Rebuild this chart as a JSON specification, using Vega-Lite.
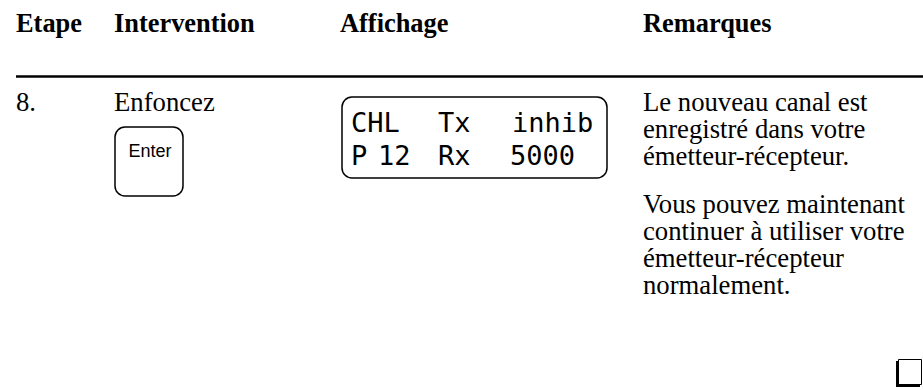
{
  "$schema": "https://vega.github.io/schema/vega-lite/v6.json",
  "width": 923,
  "height": 390,
  "padding": 0,
  "autosize": {"type": "none"},
  "background": "white",
  "config": {"view": {"stroke": null}},
  "datasets": {
    "rules": [{"x": 16, "x2": 923, "y": 76.5}],
    "boxes": [
      {"name": "Enter key", "x": 115, "x2": 183, "y": 127, "y2": 196},
      {"name": "Affichage", "x": 342, "x2": 607, "y": 97, "y2": 178}
    ],
    "shadow": [{"x": 896, "x2": 920, "y": 361, "y2": 387}],
    "check": [{"x": 898.5, "x2": 921.5, "y": 359.5, "y2": 384.5}],
    "headers": [
      {"text": "Etape", "x": 16, "y": 32},
      {"text": "Intervention", "x": 114, "y": 32},
      {"text": "Affichage", "x": 340, "y": 32},
      {"text": "Remarques", "x": 643, "y": 32}
    ],
    "body": [
      {"text": "8.", "x": 16, "y": 111},
      {"text": "Enfoncez", "x": 114, "y": 111},
      {"text": "Le nouveau canal est", "x": 643, "y": 111},
      {"text": "enregistré dans votre", "x": 643, "y": 138},
      {"text": "émetteur-récepteur.", "x": 643, "y": 165},
      {"text": "Vous pouvez maintenant", "x": 643, "y": 213},
      {"text": "continuer à utiliser votre", "x": 643, "y": 240},
      {"text": "émetteur-récepteur", "x": 643, "y": 267},
      {"text": "normalement.", "x": 643, "y": 294}
    ],
    "key": [{"text": "Enter", "x": 150, "y": 157}],
    "lcd": [
      {"text": "CHL", "x": 351, "y": 132},
      {"text": "Tx", "x": 438, "y": 132},
      {"text": "inhib", "x": 512, "y": 132},
      {"text": "P", "x": 351, "y": 165},
      {"text": "12", "x": 378, "y": 165},
      {"text": "Rx", "x": 438, "y": 165},
      {"text": "5000", "x": 510, "y": 165}
    ]
  },
  "layer": [
    {
      "data": {"name": "rules"},
      "mark": {"type": "rule", "color": "black", "strokeWidth": 2.5},
      "encoding": {
        "x": {"field": "x", "type": "quantitative", "scale": {"domain": [0, 923], "nice": false, "zero": false}, "axis": null},
        "x2": {"field": "x2"},
        "y": {"field": "y", "type": "quantitative", "scale": {"domain": [0, 390], "nice": false, "zero": false, "reverse": true}, "axis": null}
      }
    },
    {
      "data": {"name": "boxes"},
      "mark": {"type": "rect", "fill": null, "fillOpacity": 0, "stroke": "black", "strokeWidth": 1.5, "cornerRadius": 10},
      "encoding": {
        "x": {"field": "x", "type": "quantitative", "axis": null},
        "x2": {"field": "x2"},
        "y": {"field": "y", "type": "quantitative", "axis": null},
        "y2": {"field": "y2"}
      }
    },
    {
      "data": {"name": "shadow"},
      "mark": {"type": "rect", "fill": "black"},
      "encoding": {
        "x": {"field": "x", "type": "quantitative", "axis": null},
        "x2": {"field": "x2"},
        "y": {"field": "y", "type": "quantitative", "axis": null},
        "y2": {"field": "y2"}
      }
    },
    {
      "data": {"name": "check"},
      "mark": {"type": "rect", "fill": "white", "stroke": "black", "strokeWidth": 1},
      "encoding": {
        "x": {"field": "x", "type": "quantitative", "axis": null},
        "x2": {"field": "x2"},
        "y": {"field": "y", "type": "quantitative", "axis": null},
        "y2": {"field": "y2"}
      }
    },
    {
      "data": {"name": "headers"},
      "mark": {"type": "text", "font": "Liberation Serif", "fontSize": 26.4, "fontWeight": "bold", "align": "left", "baseline": "alphabetic", "color": "black"},
      "encoding": {
        "x": {"field": "x", "type": "quantitative", "axis": null},
        "y": {"field": "y", "type": "quantitative", "axis": null},
        "text": {"field": "text"}
      }
    },
    {
      "data": {"name": "body"},
      "mark": {"type": "text", "font": "Liberation Serif", "fontSize": 26.7, "align": "left", "baseline": "alphabetic", "color": "black"},
      "encoding": {
        "x": {"field": "x", "type": "quantitative", "axis": null},
        "y": {"field": "y", "type": "quantitative", "axis": null},
        "text": {"field": "text"}
      }
    },
    {
      "data": {"name": "key"},
      "mark": {"type": "text", "font": "Liberation Sans", "fontSize": 18, "align": "center", "baseline": "alphabetic", "color": "black"},
      "encoding": {
        "x": {"field": "x", "type": "quantitative", "axis": null},
        "y": {"field": "y", "type": "quantitative", "axis": null},
        "text": {"field": "text"}
      }
    },
    {
      "data": {"name": "lcd"},
      "mark": {"type": "text", "font": "DejaVu Sans Mono", "fontSize": 27, "align": "left", "baseline": "alphabetic", "color": "black"},
      "encoding": {
        "x": {"field": "x", "type": "quantitative", "axis": null},
        "y": {"field": "y", "type": "quantitative", "axis": null},
        "text": {"field": "text"}
      }
    }
  ]
}
